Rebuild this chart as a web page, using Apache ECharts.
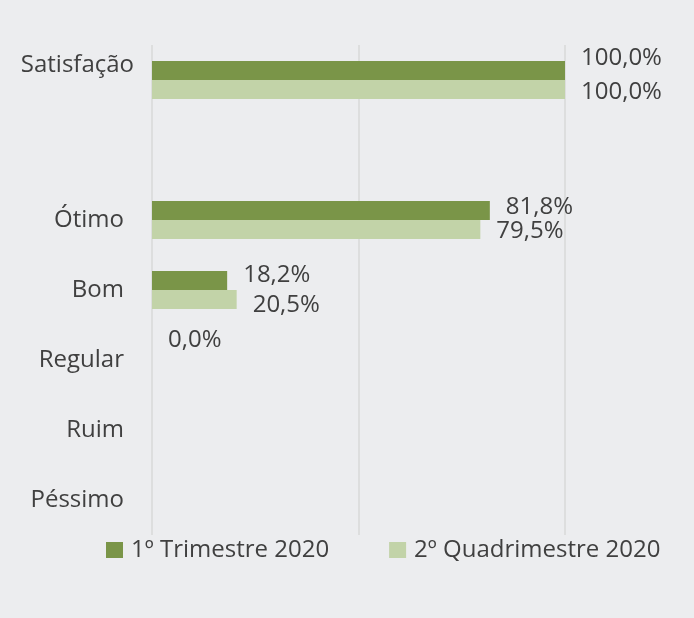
<!DOCTYPE html>
<html><head><meta charset="utf-8">
<script src="https://cdn.jsdelivr.net/npm/echarts@6/dist/echarts.min.js"></script>
<style>html,body{margin:0;padding:0;background:#ECEDEF;}#c{width:694px;height:618px;}</style>
</head><body><div id="c"></div>
<script>
const categories = ['Satisfação', '', 'Ótimo', 'Bom', 'Regular', 'Ruim', 'Péssimo'];
const seriesNames = ['1º Trimestre 2020', '2º Quadrimestre 2020'];
const trimestre = [1.0, null, 0.818, 0.182, 0.0, null, null];
const quadrimestre = [1.0, null, 0.795, 0.205, null, null, null];

const off1 = [-12, 0, -3, -5, -10, 0, 0];
const off2 = [3, 0, 2, 6, 0, 0, 0];
const fmt = p => (p.value * 100).toFixed(1).replace('.', ',') + '%';
const FONT = 'Open Sans';
const FS = 24;
const TXT = '#404040';

function build(arr, offs) {
  return arr.map((v, i) => v === null ? '-' : ({ value: v, label: { offset: [0, offs[i]] } }));
}

const chart = echarts.init(document.getElementById('c'));
chart.setOption({
  backgroundColor: '#ECEDEF',
  animation: false,
  grid: { left: 152, right: 129, top: 45, bottom: 83 },
  xAxis: {
    type: 'value', min: 0, max: 1, interval: 0.5,
    axisLabel: { show: false }, axisLine: { show: false }, axisTick: { show: false },
    splitLine: { lineStyle: { color: '#D9D9D9', width: 1.5 } }
  },
  yAxis: {
    type: 'category', data: categories, inverse: true,
    axisLine: { show: false }, axisTick: { show: false },
    axisLabel: {
      margin: 18,
      formatter: v => v === 'Satisfação' ? '{s|' + v + '}' : '{n|' + v + '}',
      rich: {
        s: { fontFamily: FONT, fontSize: FS, color: TXT, padding: [0, 0, 30, 0] },
        n: { fontFamily: FONT, fontSize: FS, color: TXT, padding: [0, 10, 0, 0] }
      }
    }
  },
  legend: {
    data: seriesNames, left: 101, top: 533, itemWidth: 17, itemHeight: 16, itemGap: 60,
    icon: 'rect',
    textStyle: { fontFamily: FONT, fontSize: FS, color: TXT, padding: [0, 0, 0, 3] }
  },
  series: [
    {
      name: seriesNames[0], type: 'bar', data: build(trimestre, off1),
      barWidth: 19, barGap: '0%',
      itemStyle: { color: '#7A9548' },
      label: { show: true, position: 'right', distance: 16, formatter: fmt,
        fontFamily: FONT, fontSize: FS, color: TXT }
    },
    {
      name: seriesNames[1], type: 'bar', data: build(quadrimestre, off2),
      barWidth: 19, barGap: '0%',
      itemStyle: { color: '#C2D3A8' },
      label: { show: true, position: 'right', distance: 16, formatter: fmt,
        fontFamily: FONT, fontSize: FS, color: TXT }
    }
  ]
});
</script></body></html>
